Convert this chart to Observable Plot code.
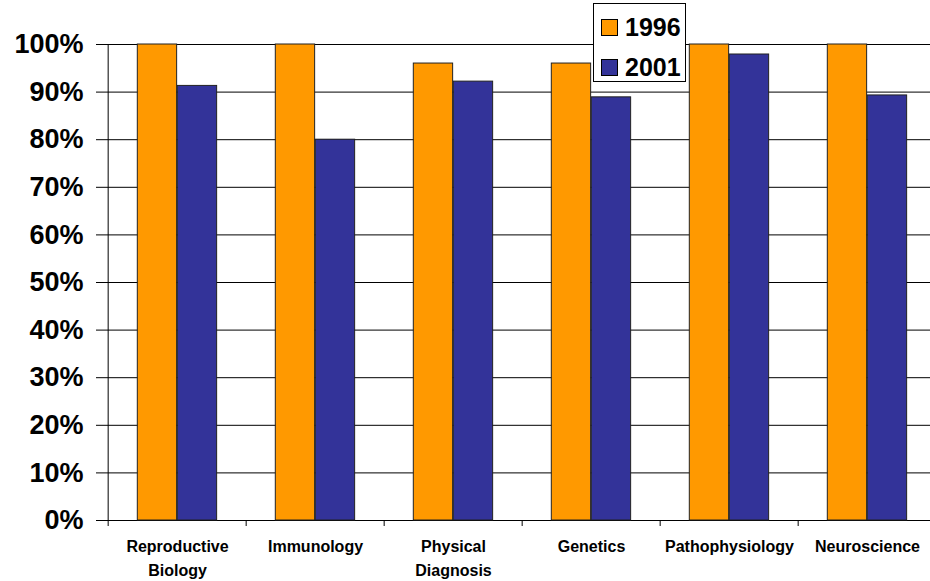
<!DOCTYPE html>
<html><head><meta charset="utf-8">
<script src="https://cdn.jsdelivr.net/npm/d3@7"></script>
<script src="https://cdn.jsdelivr.net/npm/@observablehq/plot@0.6"></script>
<style>
html,body{margin:0;padding:0;background:#fff;overflow:hidden;width:930px;height:581px;}
#wrap{position:relative;width:930px;height:581px;overflow:hidden;font-family:"Liberation Sans",Arial,sans-serif;}
#chart svg{max-width:none !important;display:block;}
#legend{position:absolute;left:593px;top:3px;width:93px;height:79px;border:1px solid #000;background:#fff;box-sizing:border-box;}
.item{position:absolute;left:7px;display:flex;align-items:center;font-weight:bold;font-size:25px;}
.sw{width:15px;height:15px;border:1px solid #000;margin-right:7px;box-sizing:content-box;}
</style></head>
<body><div id="wrap"><div id="chart"></div><div id="legend"></div></div>
<script>
const categories = ["Reproductive Biology","Immunology","Physical Diagnosis","Genetics","Pathophysiology","Neuroscience"];
const labels = ["Reproductive\nBiology","Immunology","Physical\nDiagnosis","Genetics","Pathophysiology","Neuroscience"];
const series = ["1996","2001"];
const values1996 = [1.00, 1.00, 0.96, 0.96, 1.00, 1.00];
const values2001 = [0.913, 0.80, 0.922, 0.889, 0.979, 0.893];
const colors = ["#FF9900","#333399"];
const yTicks = [0,0.1,0.2,0.3,0.4,0.5,0.6,0.7,0.8,0.9,1.0];

const data = categories.flatMap((c,i)=>[
  {cat:c, series:series[0], value:values1996[i]},
  {cat:c, series:series[1], value:values2001[i]}
]);

const W = 938, mL = 106, mR = 0;
const step = (W - mL - mR) / categories.length;
const barW = 40, outer = 29.3;

const chart = Plot.plot({
  width: W, height: 581,
  marginLeft: mL, marginRight: mR, marginTop: 44, marginBottom: 61,
  style: {fontFamily: "'Liberation Sans', Arial, sans-serif", background: "#fff", overflow: "visible", maxWidth: "none"},
  x: {domain: categories, padding: 0, axis: null},
  y: {domain: [0, 1], axis: null},
  color: {domain: series, range: colors},
  marks: [
    Plot.ruleY(yTicks, {stroke: "#000", strokeWidth: 1}),
    Plot.barY(data.filter(d=>d.series===series[0]), {x:"cat", y:"value", fill:"series", stroke:"#222", strokeWidth:1, insetLeft: outer, insetRight: step - outer - barW}),
    Plot.barY(data.filter(d=>d.series===series[1]), {x:"cat", y:"value", fill:"series", stroke:"#222", strokeWidth:1, insetLeft: outer + barW, insetRight: step - outer - 2*barW}),
    Plot.ruleX([categories[0]], {x: d=>d, dx: -step/2, y1: 0, y2: 1, stroke:"#000"}),
    Plot.ruleX(categories, {x: d=>d, dx: -step/2, insetTop: 581-44-61, insetBottom: -6, stroke:"#000"}),
    Plot.axisY(yTicks, {label: null, tickSize: 10, tickPadding: 13, tickFormat: d3.format(".0%"), fontSize: 27, fontWeight: "bold", stroke:"#000", color:"#000"}),
    Plot.text(categories, {x: d=>d, text: (d,i)=>labels[i], frameAnchor: "bottom", lineAnchor: "top", dy: 15, lineHeight: 1.47, fontSize: 16, fontWeight: "bold", fill: "#000"})
  ]
});
document.getElementById("chart").appendChild(chart);

const legend = document.getElementById("legend");
series.forEach((s,i)=>{
  const it = document.createElement("div");
  it.className = "item";
  it.style.top = (i===0 ? 9 : 49) + "px";
  it.innerHTML = `<div class="sw" style="background:${colors[i]}"></div><span>${s}</span>`;
  legend.appendChild(it);
});
</script>
</body></html>
